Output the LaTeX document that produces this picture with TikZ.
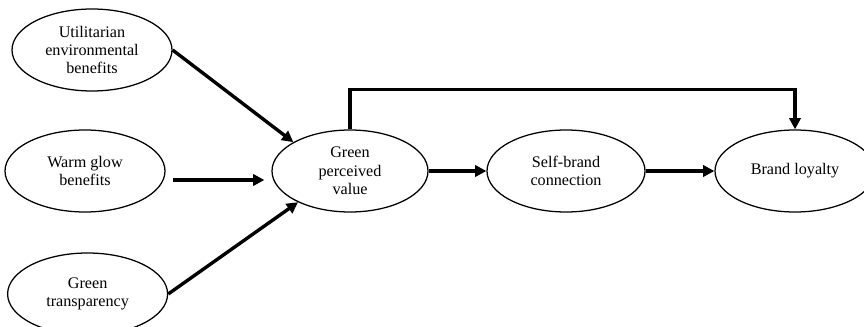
\documentclass[tikz,border=0pt]{standalone}
\usepackage{fontspec}
\setmainfont{Liberation Serif}
\usepackage{tikz}
\usetikzlibrary{
  shapes.geometric,
  arrows.meta,
  positioning
}

\begin{document}
\begin{tikzpicture}[
  var/.style={ellipse, draw=black, line width=0.9pt, fill=white, minimum width=4cm, minimum height=2.05cm, inner sep=0pt, align=center, font=\fontsize{11.5}{13}\selectfont},
  arr/.style={-{Triangle[length=8pt,width=8pt]}, line width=2.4pt, black}
]
  \useasboundingbox (0,0) rectangle (21.6,-8.175);

  \node[var] (util) at (2.3,-1.25) {Utilitarian\\environmental\\benefits};
  \node[var] (warm) at (2.125,-4.275) {Warm glow\\benefits};
  \node[var] (transp) at (2.19,-7.35) {Green\\transparency};

  \node[var, minimum width=3.9cm] (gpv) at (8.75,-4.275) {Green\\perceived\\value};
  \node[var, minimum width=3.95cm] (sbc) at (14.15,-4.275) {Self-brand\\connection};
  \node[var] (loyal) at (19.875,-4.275) {Brand loyalty};

  \draw[arr] (util.east) -- (gpv.153);
  \draw[arr] ([xshift=0.175cm,yshift=-0.225cm]warm.east) -- ([xshift=-0.175cm,yshift=-0.225cm]gpv.west);
  \draw[arr] (transp.east) -- (gpv.211);

  \draw[arr] (gpv.east) -- (sbc.west);
  \draw[arr] (sbc.east) -- (loyal.west);
  \draw[arr, rounded corners=0pt] (gpv.north) -- ++(0,1) -| (loyal.north);
\end{tikzpicture}
\end{document}
